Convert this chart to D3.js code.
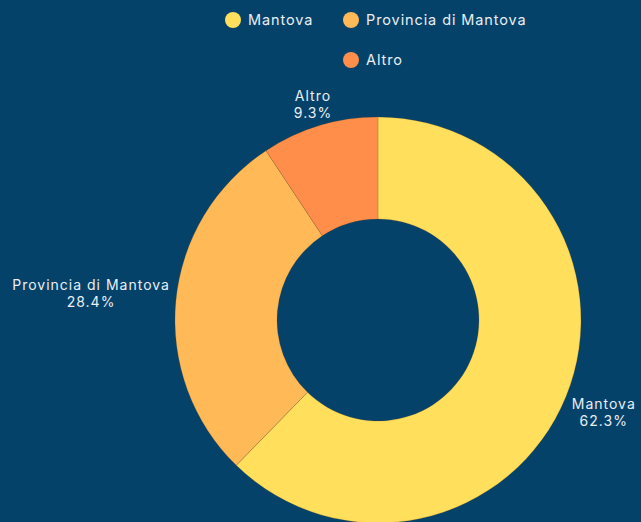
<!DOCTYPE html>
<html>
<head>
<meta charset="utf-8">
<script src="https://cdn.jsdelivr.net/npm/d3@7"></script>
<style>
    html, body { margin: 0; padding: 0; background: #05426a; overflow: hidden; }
    svg { display: block; font-family: "Inter", "Open Sans", sans-serif; }
</style>
</head>
<body>
<div id="chart"></div>
<script>
const categories = ["Mantova", "Provincia di Mantova", "Altro"];
const values = [62.3, 28.4, 9.3];
const colors = ["#ffdf5c", "#ffba57", "#ff8e4a"];

const width = 641, height = 522;
const cx = 378, cy = 320, outerR = 203, innerR = 101;

const svg = d3.select("#chart")
    .append("svg")
    .attr("width", width)
    .attr("height", height);

svg.append("rect")
    .attr("width", width)
    .attr("height", height)
    .attr("fill", "#05426a");

// legend
const legendPos = [[233, 20], [351, 20], [351, 60]];
const legend = svg.append("g").attr("class", "legend");
categories.forEach((c, i) => {
    const item = legend.append("g")
        .attr("transform", `translate(${legendPos[i][0]},${legendPos[i][1]})`);
    item.append("circle")
        .attr("r", 8)
        .attr("fill", colors[i]);
    item.append("text")
        .attr("x", 15)
        .attr("dy", "0.35em")
        .attr("fill", "#e8eef3")
        .style("font-size", "14.5px")
        .style("letter-spacing", "0.9px")
        .text(c);
});

const pie = d3.pie().sort(null).value(d => d)(values);
const arc = d3.arc().innerRadius(innerR).outerRadius(outerR);

const g = svg.append("g").attr("transform", `translate(${cx},${cy})`);

g.selectAll("path.slice")
    .data(pie)
    .enter()
    .append("path")
    .attr("class", "slice")
    .attr("d", arc)
    .attr("fill", (d, i) => colors[i])
    .attr("stroke", "rgba(120,70,20,0.35)")
    .attr("stroke-width", 0.6);

// labels: anchored at outer edge, pushed out along the mid angle
const offset = 4;
pie.forEach((d, i) => {
    const a = (d.startAngle + d.endAngle) / 2;
    const dx = Math.sin(a), dy = -Math.cos(a);
    const lab = g.append("text")
        .attr("fill", "#e8eef3")
        .attr("text-anchor", "middle")
        .style("font-size", "14px")
        .style("letter-spacing", "1px");
    lab.append("tspan").attr("x", 0).attr("dy", "-0.15em").text(categories[i]);
    lab.append("tspan").attr("x", 0).attr("dy", "1.2em").text(d3.format(".1f")(values[i]) + "%");
    const bb = lab.node().getBBox();
    const w = bb.width + 4, h = bb.height + 2;
    const t = Math.min(Math.abs(dx) > 1e-6 ? w / 2 / Math.abs(dx) : Infinity,
                       Math.abs(dy) > 1e-6 ? h / 2 / Math.abs(dy) : Infinity);
    const r = outerR + offset + t;
    const px = dx * r, py = dy * r;
    const bcx = bb.x + bb.width / 2, bcy = bb.y + bb.height / 2;
    lab.attr("transform", `translate(${px - bcx},${py - bcy})`);
});
</script>
</body>
</html>
